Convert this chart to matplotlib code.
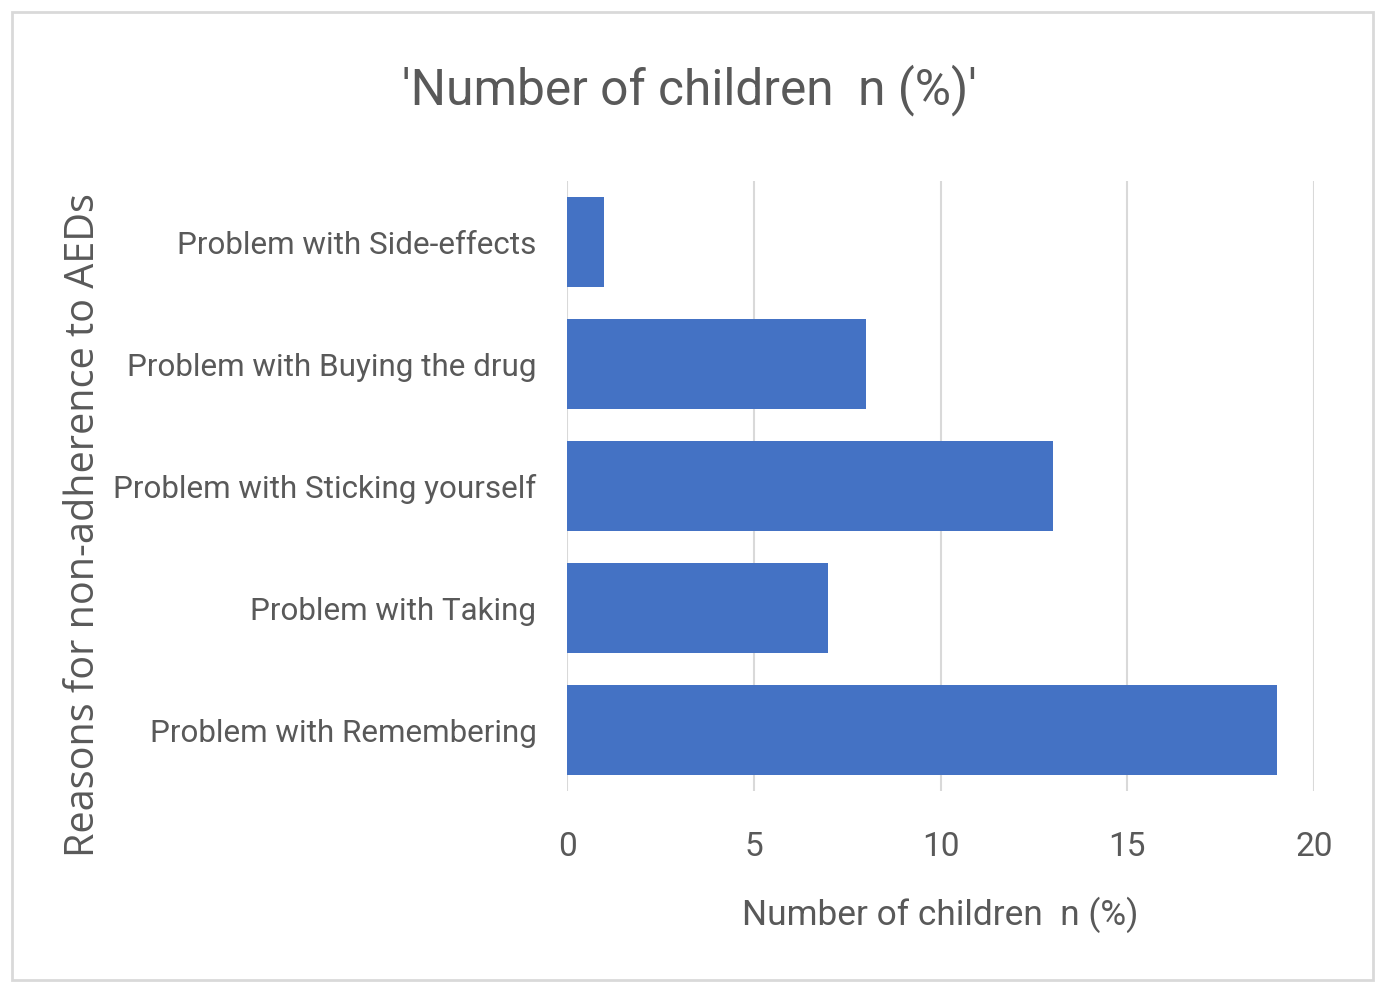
import matplotlib
matplotlib.use('Agg')
import matplotlib.pyplot as plt
from matplotlib.patches import Rectangle

categories = ['Problem with Remembering', 'Problem with Taking',
              'Problem with Sticking yourself', 'Problem with Buying the drug',
              'Problem with Side-effects']
counts = [19, 7, 13, 8, 1]
xticks = [0, 5, 10, 15, 20]

narrow = ['Roboto', 'DejaVu Sans']
grey = '#595959'

fig = plt.figure(figsize=(13.77, 9.85), dpi=100)
fig.patches.append(Rectangle((0.009, 0.005), 0.988, 0.983, transform=fig.transFigure,
                             fill=False, edgecolor='#d9d9d9', linewidth=2))
ax = fig.add_axes([567 / 1377, 1 - 791 / 985, (1314 - 567) / 1377, (791 - 181) / 985])

ax.barh(range(len(categories)), counts, height=0.74, color='#4472c4', zorder=3)
ax.set_xlim(0, 20)
ax.set_ylim(-0.5, len(categories) - 0.5)
ax.set_xticks(xticks)
ax.set_xticklabels([str(t) for t in xticks], family=narrow, fontsize=24, color=grey)
ax.set_yticks(range(len(categories)))
ax.set_yticklabels(categories, family=narrow, fontsize=22.6, color=grey)
ax.tick_params(length=0, pad=22)
ax.tick_params(axis='x', pad=29)
ax.grid(axis='x', color='#d9d9d9', linewidth=1.5, zorder=0)
for s in ax.spines.values():
    s.set_visible(False)

ax.set_xlabel('Number of children  n (%)', family=narrow, fontsize=25.4, color=grey, labelpad=24)
fig.text(0.061, 0.467, 'Reasons for non-adherence to AEDs', rotation=90, ha='center', va='center',
         family=['Open Sans', 'DejaVu Sans'], fontsize=28.5, color=grey)
fig.text(0.501, 0.909, "'Number of children  n (%)'", ha='center', va='center',
         family=narrow, fontsize=35.7, color=grey)

fig.savefig('out.png', dpi=100)
